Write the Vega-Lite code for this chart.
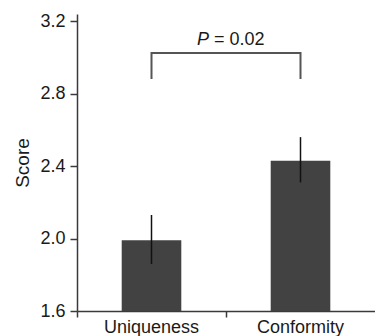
{
  "$schema": "https://vega.github.io/schema/vega-lite/v6.json",
  "width": 298,
  "height": 297,
  "autosize": {"type": "none"},
  "padding": {"left": 77, "top": 14, "right": 0, "bottom": 25},
  "config": {
    "view": {"stroke": null},
    "font": "Liberation Sans",
    "axis": {
      "domainColor": "#3a3a3a",
      "domainWidth": 1.5,
      "tickColor": "#3a3a3a",
      "tickWidth": 1.5,
      "labelColor": "#1a1a1a",
      "titleColor": "#1a1a1a",
      "labelFont": "Liberation Sans",
      "titleFont": "Liberation Sans",
      "grid": false
    },
    "axisY": {
      "titleFontSize": 19,
      "titleFontWeight": "normal",
      "titlePadding": 7
    }
  },
  "datasets": {
    "bars": [
      {"group": "Uniqueness", "score": 1.99, "lower": 1.86, "upper": 2.13},
      {"group": "Conformity", "score": 2.43, "lower": 2.31, "upper": 2.56}
    ],
    "bracket": [
      {"group": "Uniqueness", "y": 2.886, "order": 1},
      {"group": "Uniqueness", "y": 3.024, "order": 2},
      {"group": "Conformity", "y": 3.024, "order": 3},
      {"group": "Conformity", "y": 2.886, "order": 4}
    ],
    "label": [
      {"group": "Conformity", "y": 3.07, "p": "P", "rest": "= 0.02"}
    ]
  },
  "encoding": {
    "x": {
      "field": "group",
      "type": "nominal",
      "sort": ["Uniqueness", "Conformity"],
      "scale": {"domain": ["Uniqueness", "Conformity"], "paddingInner": 0, "paddingOuter": 0},
      "axis": {
        "title": null,
        "labelAngle": 0,
        "labelFontSize": 18,
        "tickSize": 6,
        "labelPadding": 1,
        "bandPosition": 0
      }
    }
  },
  "layer": [
    {
      "data": {"name": "bars"},
      "mark": {"type": "bar", "color": "#424242", "width": {"band": 0.4}, "clip": true},
      "encoding": {
        "y": {
          "field": "score",
          "type": "quantitative",
          "scale": {"domain": [1.6, 3.24], "zero": false, "nice": false},
          "axis": {
            "title": "Score",
            "titleFontSize": 19,
            "values": [1.6, 2.0, 2.4, 2.8, 3.2],
            "format": ".1f",
            "labelFontSize": 18,
            "tickSize": 7,
            "labelPadding": 5
          }
        }
      }
    },
    {
      "data": {"name": "bars"},
      "mark": {"type": "rule", "color": "#111111", "strokeWidth": 1.5},
      "encoding": {
        "y": {"field": "lower", "type": "quantitative"},
        "y2": {"field": "upper"}
      }
    },
    {
      "data": {"name": "bracket"},
      "mark": {"type": "line", "color": "#555555", "strokeWidth": 2, "strokeCap": "square"},
      "encoding": {
        "y": {"field": "y", "type": "quantitative"},
        "order": {"field": "order", "type": "quantitative"}
      }
    },
    {
      "data": {"name": "label"},
      "mark": {"type": "text", "align": "right", "baseline": "alphabetic", "fontSize": 18, "fontStyle": "italic", "color": "#1a1a1a", "dx": -17},
      "encoding": {
        "x": {"field": "group", "type": "nominal", "bandPosition": 0},
        "y": {"field": "y", "type": "quantitative"},
        "text": {"field": "p"}
      }
    },
    {
      "data": {"name": "label"},
      "mark": {"type": "text", "align": "left", "baseline": "alphabetic", "fontSize": 18, "color": "#1a1a1a", "dx": -12},
      "encoding": {
        "x": {"field": "group", "type": "nominal", "bandPosition": 0},
        "y": {"field": "y", "type": "quantitative"},
        "text": {"field": "rest"}
      }
    }
  ]
}
